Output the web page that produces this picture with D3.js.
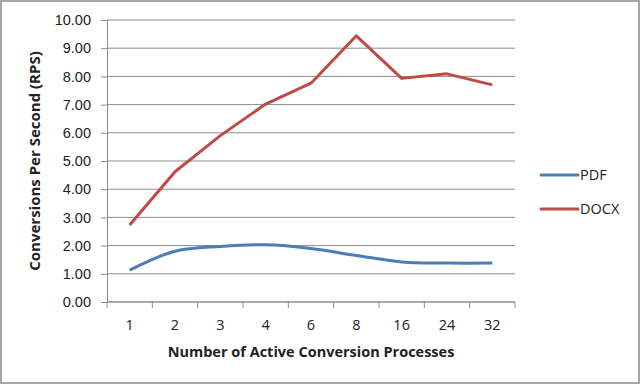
<!DOCTYPE html>
<html>
<head>
<meta charset="utf-8">
<script src="https://cdn.jsdelivr.net/npm/d3@7"></script>
<style>
  body { margin: 0; background: #fff; }
  svg { display: block; font-family: "Open Sans", "Noto Sans", sans-serif; }
</style>
</head>
<body>
<svg id="chart" width="641" height="385"></svg>
<script>
// data
var categories = ["1", "2", "3", "4", "6", "8", "16", "24", "32"]
var pdfValues  = [1.13, 1.80, 1.97, 2.03, 1.90, 1.65, 1.42, 1.38, 1.38]
var docxValues = [2.73, 4.62, 5.90, 7.02, 7.76, 9.44, 7.93, 8.09, 7.70]
var yTicks = [0, 1, 2, 3, 4, 5, 6, 7, 8, 9, 10]
var seriesNames = ["PDF", "DOCX"]
var seriesColors = ["#4a7ebb", "#be4b48"]

var svg = d3.select("#chart")

// outer frame
svg.append("rect").attr("x", 1).attr("y", 1).attr("width", 638).attr("height", 382)
    .style("fill", "#fff").style("stroke", "#a6a6a6").style("stroke-width", 2)

var plotLeft = 107, plotRight = 515, plotTop = 20, plotBottom = 302

var x = d3.scaleBand().domain(categories).range([plotLeft, plotRight])
var y = d3.scaleLinear().domain([0, 10]).range([plotBottom, plotTop])

// grid lines
svg.append("g").selectAll("line").data(yTicks).enter().append("line")
    .attr("x1", plotLeft).attr("x2", plotRight)
    .attr("y1", d => y(d)).attr("y2", d => y(d))
    .style("stroke", "#8c8c8c").style("stroke-width", 1)

// y axis
var yAxis = svg.append("g").attr("transform", "translate(" + plotLeft + ",0)")
    .call(d3.axisLeft(y).tickValues(yTicks).tickFormat(d3.format(".2f")).tickSize(6).tickPadding(10))
yAxis.select(".domain").style("stroke", "#8c8c8c")
yAxis.selectAll(".tick line").style("stroke", "#8c8c8c")
yAxis.selectAll("text").style("font-size", "14.5px").style("fill", "#222").style("font-family", null)

// x axis, ticks between categories like excel
var xAxis = svg.append("g").attr("transform", "translate(0," + plotBottom + ")")
xAxis.append("line").attr("x1", plotLeft).attr("x2", plotRight).style("stroke", "#8c8c8c")
var bounds = categories.map(c => x(c)).concat([plotRight])
xAxis.selectAll(".tk").data(bounds).enter().append("line").attr("class", "tk")
    .attr("x1", d => d).attr("x2", d => d).attr("y1", 0).attr("y2", 6)
    .style("stroke", "#8c8c8c")
xAxis.selectAll("text").data(categories).enter().append("text")
    .attr("x", d => x(d) + x.bandwidth() / 2).attr("y", 28)
    .attr("text-anchor", "middle").style("font-size", "14.5px").style("fill", "#222")
    .text(d => d)

// axis titles
svg.append("text").attr("x", (plotLeft + plotRight) / 2).attr("y", 357)
    .attr("text-anchor", "middle").style("font-size", "14.5px").style("font-weight", "bold").style("fill", "#222")
    .text("Number of Active Conversion Processes")
svg.append("text").attr("transform", "translate(40," + (plotTop + plotBottom) / 2 + ") rotate(-90)")
    .attr("text-anchor", "middle").style("font-size", "15px").style("font-weight", "bold").style("fill", "#222")
    .text("Conversions Per Second (RPS)")

// lines
var cx = d => x(d) + x.bandwidth() / 2
var smoothLine = d3.line().x((d, i) => cx(categories[i])).y(d => y(d)).curve(d3.curveCatmullRom.alpha(0.5))
var straightLine = d3.line().x((d, i) => cx(categories[i])).y(d => y(d))

svg.append("path").datum(pdfValues).attr("d", smoothLine)
    .style("fill", "none").style("stroke", seriesColors[0]).style("stroke-width", 3).style("stroke-linejoin", "round")
svg.append("path").datum(docxValues).attr("d", straightLine)
    .style("fill", "none").style("stroke", seriesColors[1]).style("stroke-width", 3).style("stroke-linejoin", "round")

// legend
var legend = svg.append("g").selectAll("g").data(seriesNames).enter().append("g")
    .attr("transform", (d, i) => "translate(541," + (175 + i * 34) + ")")
legend.append("line").attr("x1", 0).attr("x2", 37)
    .style("stroke", (d, i) => seriesColors[i]).style("stroke-width", 3).style("stroke-linecap", "round")
legend.append("text").attr("x", 39).attr("y", 5).style("font-size", "14.5px").style("fill", "#222")
    .text(d => d)
</script>
</body>
</html>
